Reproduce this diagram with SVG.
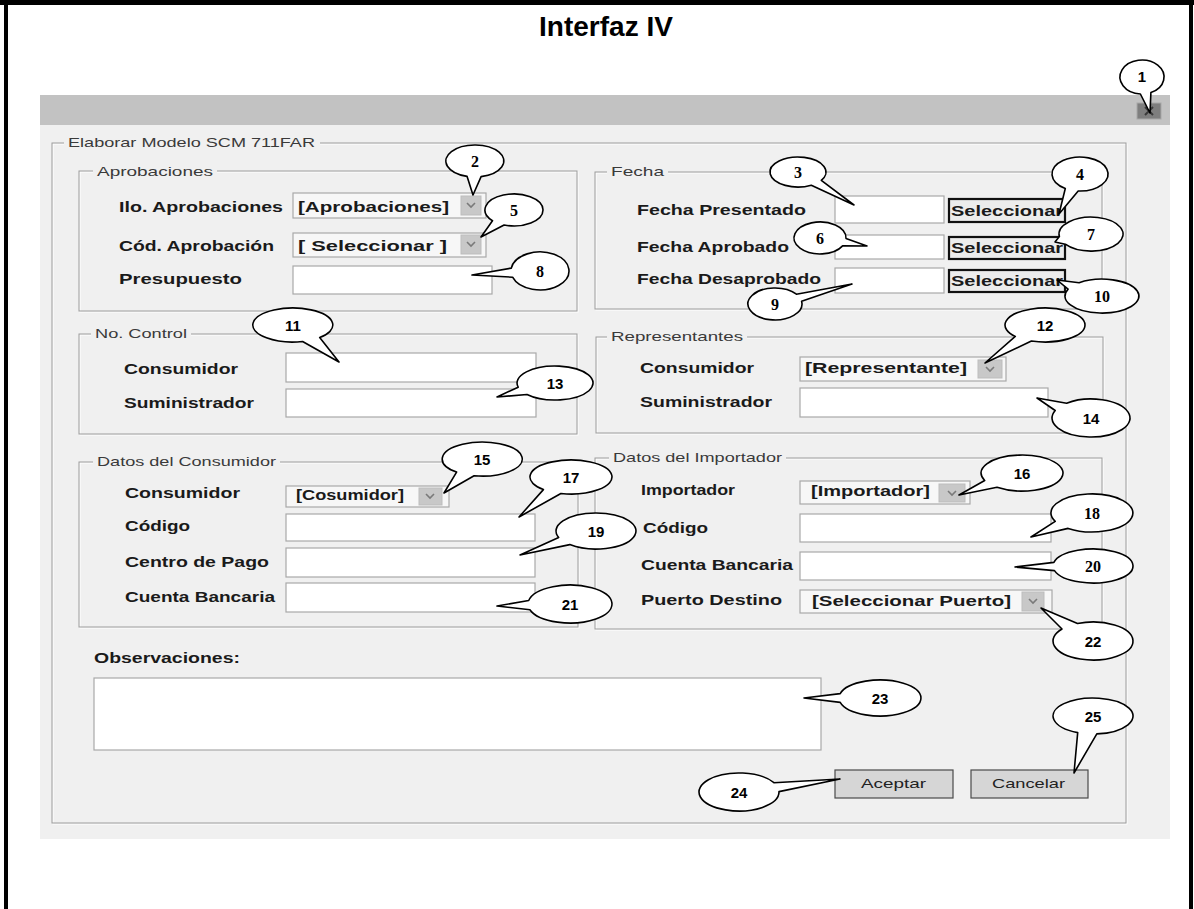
<svg xmlns="http://www.w3.org/2000/svg" width="1194" height="909" viewBox="0 0 1194 909">
<defs>
<style>
.lbl{font-family:"Liberation Sans",Arial,sans-serif;font-weight:bold;font-size:15px;fill:#1a1a1a}
.grp{font-family:"Liberation Sans",Arial,sans-serif;font-size:13px;fill:#3a3a3a}
.btn{font-family:"Liberation Sans",Arial,sans-serif;font-size:13px;fill:#222}
.gb{fill:none;stroke:#9c9c9c;stroke-width:1}
.gw{fill:none;stroke:#ffffff;stroke-width:1}
.gbg{fill:#f0f0f0}
.fld{fill:#ffffff;stroke:#a9a9a9;stroke-width:1.2}
.cmb{fill:#f7f7f7;stroke:#a9a9a9;stroke-width:1.2}
.arr{fill:#c8c8c8;stroke:#bdbdbd;stroke-width:1}
.chev{fill:none;stroke:#7a7a7a;stroke-width:1.6}
.sel{fill:#ececec;stroke:#111;stroke-width:2.2}
.pb{fill:#d6d6d6;stroke:#4a4a4a;stroke-width:1.2}
.co{fill:#ffffff;stroke:#000;stroke-width:1.6;stroke-linejoin:round}
.ns{font-family:"Liberation Serif","Times New Roman",serif;font-weight:bold;font-size:16px;fill:#000;text-anchor:middle}
.nn{font-family:"Liberation Sans",Arial,sans-serif;font-weight:bold;font-size:15px;fill:#000;text-anchor:middle}
</style>
</defs>
<rect width="1194" height="909" fill="#ffffff"/>
<g id="frame">
<rect x="0" y="0" width="1194" height="5" fill="#000"/>
<rect x="4" y="0" width="4" height="909" fill="#000"/>
<rect x="1189" y="0" width="4" height="909" fill="#000"/>
</g>
<text id="title" x="606" y="36" text-anchor="middle" font-family="Liberation Sans,Arial,sans-serif" font-weight="bold" font-size="28">Interfaz IV</text>

<g id="window">
<rect x="40" y="95" width="1130" height="744" fill="#f0f0f0"/>
<rect x="40" y="95" width="1130" height="30" fill="#c2c2c2"/>
<g id="close">
<rect x="1137" y="103" width="24" height="16" fill="#7e7e7e" stroke="#a8a8a8"/>
<path d="M1145 107 L1153 115 M1153 107 L1145 115" stroke="#3a3a3a" stroke-width="2"/>
</g>
</g>

<g id="grp-main">
<rect class="gw" x="53" y="144" width="1074" height="680"/>
<rect class="gb" x="52" y="143" width="1074" height="680"/>
<rect class="gbg" x="64" y="135" width="256" height="16"/>
<text class="grp" x="68" y="147" textLength="247" lengthAdjust="spacingAndGlyphs">Elaborar Modelo SCM 711FAR</text>
</g>

<g id="grp-aprobaciones">
<rect class="gw" x="80" y="172" width="498" height="140"/>
<rect class="gb" x="79" y="171" width="498" height="140"/>
<rect class="gbg" x="93" y="163" width="124" height="16"/>
<text class="grp" x="97" y="176" textLength="116" lengthAdjust="spacingAndGlyphs">Aprobaciones</text>
<text class="lbl" x="119" y="212" textLength="164" lengthAdjust="spacingAndGlyphs">Ilo. Aprobaciones</text>
<rect class="cmb" x="293" y="193" width="193" height="25"/>
<text class="lbl" x="298" y="212" textLength="151" lengthAdjust="spacingAndGlyphs">[Aprobaciones]</text>
<rect class="arr" x="461" y="196" width="20" height="19"/>
<path class="chev" d="M467 203 L471 207 L475 203"/>
<text class="lbl" x="119" y="251" textLength="155" lengthAdjust="spacingAndGlyphs">Cód. Aprobación</text>
<rect class="cmb" x="293" y="233" width="193" height="24"/>
<text class="lbl" x="298" y="251" textLength="149" lengthAdjust="spacingAndGlyphs">[ Seleccionar ]</text>
<rect class="arr" x="461" y="235" width="20" height="19"/>
<path class="chev" d="M467 242 L471 246 L475 242"/>
<text class="lbl" x="119" y="284" textLength="123" lengthAdjust="spacingAndGlyphs">Presupuesto</text>
<rect class="fld" x="293" y="266" width="199" height="28"/>
</g>

<g id="grp-fecha">
<rect class="gw" x="596" y="173" width="507" height="137"/>
<rect class="gb" x="595" y="172" width="507" height="137"/>
<rect class="gbg" x="607" y="164" width="61" height="16"/>
<text class="grp" x="611" y="176" textLength="53" lengthAdjust="spacingAndGlyphs">Fecha</text>
<text class="lbl" x="637" y="215" textLength="169" lengthAdjust="spacingAndGlyphs">Fecha Presentado</text>
<rect class="fld" x="835" y="196" width="109" height="27"/>
<rect class="sel" x="949" y="199" width="116" height="23"/>
<text class="lbl" x="951" y="216" textLength="112" lengthAdjust="spacingAndGlyphs">Seleccionar</text>
<text class="lbl" x="637" y="252" textLength="152" lengthAdjust="spacingAndGlyphs">Fecha Aprobado</text>
<rect class="fld" x="835" y="235" width="109" height="24"/>
<rect class="sel" x="949" y="237" width="116" height="22"/>
<text class="lbl" x="951" y="253" textLength="112" lengthAdjust="spacingAndGlyphs">Seleccionar</text>
<text class="lbl" x="637" y="284" textLength="184" lengthAdjust="spacingAndGlyphs">Fecha Desaprobado</text>
<rect class="fld" x="835" y="268" width="109" height="25"/>
<rect class="sel" x="949" y="270" width="116" height="22"/>
<text class="lbl" x="951" y="286" textLength="112" lengthAdjust="spacingAndGlyphs">Seleccionar</text>
</g>

<g id="grp-control">
<rect class="gw" x="80" y="335" width="498" height="100"/>
<rect class="gb" x="79" y="334" width="498" height="100"/>
<rect class="gbg" x="91" y="326" width="100" height="16"/>
<text class="grp" x="95" y="338" textLength="92" lengthAdjust="spacingAndGlyphs">No. Control</text>
<text class="lbl" x="124" y="374" textLength="114" lengthAdjust="spacingAndGlyphs">Consumidor</text>
<rect class="fld" x="286" y="353" width="250" height="29"/>
<text class="lbl" x="124" y="408" textLength="130" lengthAdjust="spacingAndGlyphs">Suministrador</text>
<rect class="fld" x="286" y="389" width="250" height="28"/>
</g>

<g id="grp-representantes">
<rect class="gw" x="597" y="338" width="507" height="96"/>
<rect class="gb" x="596" y="337" width="507" height="96"/>
<rect class="gbg" x="607" y="329" width="140" height="16"/>
<text class="grp" x="611" y="341" textLength="132" lengthAdjust="spacingAndGlyphs">Representantes</text>
<text class="lbl" x="640" y="373" textLength="114" lengthAdjust="spacingAndGlyphs">Consumidor</text>
<rect class="cmb" x="800" y="357" width="206" height="24"/>
<text class="lbl" x="805" y="373" textLength="162" lengthAdjust="spacingAndGlyphs">[Representante]</text>
<rect class="arr" x="978" y="360" width="24" height="18"/>
<path class="chev" d="M986 367 L990 371 L994 367"/>
<text class="lbl" x="640" y="407" textLength="132" lengthAdjust="spacingAndGlyphs">Suministrador</text>
<rect class="fld" x="800" y="388" width="248" height="29"/>
</g>

<g id="grp-consumidor">
<rect class="gw" x="80" y="463" width="499" height="165"/>
<rect class="gb" x="79" y="462" width="499" height="165"/>
<rect class="gbg" x="93" y="454" width="187" height="16"/>
<text class="grp" x="97" y="466" textLength="179" lengthAdjust="spacingAndGlyphs">Datos del Consumidor</text>
<text class="lbl" x="125" y="498" textLength="115" lengthAdjust="spacingAndGlyphs">Consumidor</text>
<rect class="cmb" x="286" y="486" width="163" height="21"/>
<text class="lbl" x="296" y="500" textLength="108" lengthAdjust="spacingAndGlyphs">[Cosumidor]</text>
<rect class="arr" x="419" y="488" width="23" height="17"/>
<path class="chev" d="M426 494 L430 498 L434 494"/>
<text class="lbl" x="125" y="531" textLength="65" lengthAdjust="spacingAndGlyphs">Código</text>
<rect class="fld" x="286" y="514" width="249" height="27"/>
<text class="lbl" x="125" y="567" textLength="144" lengthAdjust="spacingAndGlyphs">Centro de Pago</text>
<rect class="fld" x="286" y="548" width="249" height="29"/>
<text class="lbl" x="125" y="602" textLength="150" lengthAdjust="spacingAndGlyphs">Cuenta Bancaria</text>
<rect class="fld" x="286" y="583" width="249" height="29"/>
</g>

<g id="grp-importador">
<rect class="gw" x="596" y="459" width="507" height="171"/>
<rect class="gb" x="595" y="458" width="507" height="171"/>
<rect class="gbg" x="609" y="450" width="177" height="16"/>
<text class="grp" x="613" y="462" textLength="169" lengthAdjust="spacingAndGlyphs">Datos del Importador</text>
<text class="lbl" x="641" y="495" textLength="94" lengthAdjust="spacingAndGlyphs">Importador</text>
<rect class="cmb" x="800" y="481" width="170" height="23"/>
<text class="lbl" x="811" y="496" textLength="119" lengthAdjust="spacingAndGlyphs">[Importador]</text>
<rect class="arr" x="939" y="484" width="26" height="18"/>
<path class="chev" d="M948 491 L952 495 L956 491"/>
<text class="lbl" x="643" y="533" textLength="65" lengthAdjust="spacingAndGlyphs">Código</text>
<rect class="fld" x="800" y="514" width="251" height="28"/>
<text class="lbl" x="641" y="570" textLength="152" lengthAdjust="spacingAndGlyphs">Cuenta Bancaria</text>
<rect class="fld" x="800" y="552" width="251" height="28"/>
<text class="lbl" x="641" y="605" textLength="141" lengthAdjust="spacingAndGlyphs">Puerto Destino</text>
<rect class="cmb" x="800" y="590" width="252" height="23"/>
<text class="lbl" x="812" y="606" textLength="199" lengthAdjust="spacingAndGlyphs">[Seleccionar Puerto]</text>
<rect class="arr" x="1022" y="592" width="22" height="19"/>
<path class="chev" d="M1029 599 L1033 603 L1037 599"/>
</g>

<g id="observaciones">
<text class="lbl" x="94" y="663" textLength="146" lengthAdjust="spacingAndGlyphs">Observaciones:</text>
<rect class="fld" x="94" y="678" width="727" height="72"/>
</g>

<g id="btn-aceptar">
<rect class="pb" x="835" y="770" width="118" height="28"/>
<text class="btn" x="861" y="788" textLength="65" lengthAdjust="spacingAndGlyphs">Aceptar</text>
</g>
<g id="btn-cancelar">
<rect class="pb" x="971" y="770" width="117" height="28"/>
<text class="btn" x="992" y="788" textLength="73" lengthAdjust="spacingAndGlyphs">Cancelar</text>
</g>

<g id="callouts">
<g id="c1"><path class="co" d="M1150.9 92.6 A22 17 0 1 0 1140.4 94 L1150 113 Z"/><text class="nn" x="1142" y="82">1</text></g>
<g id="c2"><path class="co" d="M481.1 176.6 A29 16 0 1 0 467.1 176.4 L473 195 Z"/><text class="ns" x="475" y="167">2</text></g>
<g id="c3"><path class="co" d="M821.3 180.3 A28 15 0 1 0 811.3 185.2 L854 205 Z"/><text class="ns" x="798" y="178">3</text></g>
<g id="c4"><path class="co" d="M1078.2 191 A28 17 0 1 0 1065.3 188.5 L1059 214 Z"/><text class="ns" x="1080" y="180">4</text></g>
<g id="c5"><path class="co" d="M504.1 225 A29 16 0 1 0 492.5 220.7 L481 237 Z"/><text class="ns" x="514" y="216">5</text></g>
<g id="c6"><path class="co" d="M846 238.4 A26 16 0 1 0 842.6 245.9 L867 246 Z"/><text class="ns" x="820" y="244">6</text></g>
<g id="c7"><path class="co" d="M1065.3 244.2 A32 17 0 1 0 1059.4 236.6 L1055 242 Z"/><text class="ns" x="1091" y="240">7</text></g>
<g id="c8"><path class="co" d="M512.6 277.2 A29 19 0 1 0 511.3 268.1 L472 275 Z"/><text class="ns" x="540" y="277">8</text></g>
<g id="c9"><path class="co" d="M796.4 294.2 A27 16 0 1 0 801.6 301.3 L852 284 Z"/><text class="ns" x="775" y="310">9</text></g>
<g id="c10"><path class="co" d="M1068.1 289.2 A37 17 0 1 0 1079.1 282.7 L1057 280 Z"/><text class="ns" x="1102" y="302">10</text></g>
<g id="c11"><path class="co" d="M319.7 337.6 A40 17 0 1 0 302.6 341.5 L339 362 Z"/><text class="nn" x="293" y="331">11</text></g>
<g id="c12"><path class="co" d="M1031.4 341 A40 17 0 1 0 1015.3 336.4 L985 363 Z"/><text class="nn" x="1045" y="331">12</text></g>
<g id="c13"><path class="co" d="M527 394.5 A38 17 0 1 0 518.2 387.2 L497 397 Z"/><text class="nn" x="555" y="389">13</text></g>
<g id="c14"><path class="co" d="M1055.2 410.5 A39 19 0 1 0 1066.6 403.2 L1037 398 Z"/><text class="nn" x="1091" y="424">14</text></g>
<g id="c15"><path class="co" d="M474.1 475.7 A40 17 0 1 0 456.6 472.1 L444 493 Z"/><text class="nn" x="482" y="465">15</text></g>
<g id="c16"><path class="co" d="M997 487.3 A41 18 0 1 0 984.7 480.5 L959 495 Z"/><text class="nn" x="1022" y="479">16</text></g>
<g id="c17"><path class="co" d="M560.9 493.5 A41 17 0 1 0 543.4 489.6 L519 517 Z"/><text class="nn" x="571" y="483">17</text></g>
<g id="c18"><path class="co" d="M1068.1 528.4 A41 19 0 1 0 1055.2 521.4 L1031 537 Z"/><text class="ns" x="1092" y="519">18</text></g>
<g id="c19"><path class="co" d="M569.8 544.6 A40 18 0 1 0 558.7 537.5 L520 555 Z"/><text class="nn" x="596" y="537">19</text></g>
<g id="c20"><path class="co" d="M1054.5 570.6 A40 17 0 1 0 1053.9 562.4 L1015 567 Z"/><text class="ns" x="1093" y="572">20</text></g>
<g id="c21"><path class="co" d="M529.9 609.7 A42 19 0 1 0 528.7 600.5 L497 606 Z"/><text class="nn" x="570" y="610">21</text></g>
<g id="c22"><path class="co" d="M1062 629 A40 19 0 1 0 1077.5 623.5 L1041 608 Z"/><text class="nn" x="1093" y="647">22</text></g>
<g id="c23"><path class="co" d="M840.2 702.4 A41 18 0 1 0 840.2 693.6 L804 698 Z"/><text class="nn" x="880" y="704">23</text></g>
<g id="c24"><path class="co" d="M773.9 782.7 A40 19 0 1 0 779 791.6 L840 779 Z"/><text class="nn" x="739" y="798">24</text></g>
<g id="c25"><path class="co" d="M1096.8 733.9 A40 18 0 1 0 1077.7 732.6 L1074 773 Z"/><text class="nn" x="1093" y="722">25</text></g>
</g>
</svg>
